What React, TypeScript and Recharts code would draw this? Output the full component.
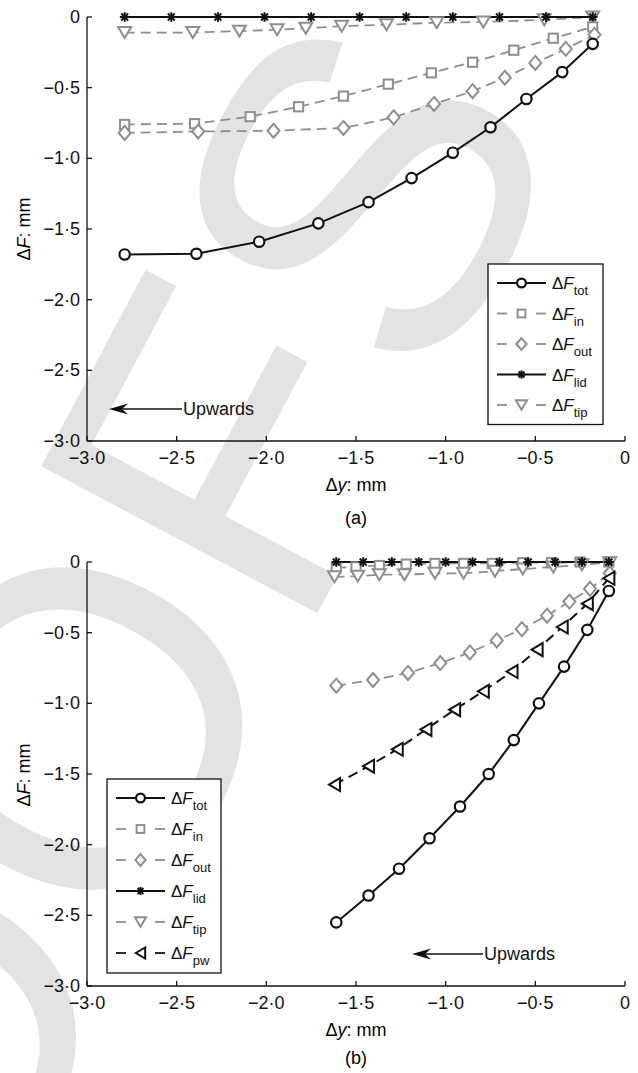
import React from 'react';
import { LineChart, Line, XAxis, YAxis } from 'recharts';

// ---------- Panel (a) data ----------
const A_TOT_X = [-2.79, -2.39, -2.04, -1.71, -1.43, -1.19, -0.96, -0.75, -0.55, -0.35, -0.18];
const A_TOT_Y = [-1.68, -1.675, -1.59, -1.46, -1.31, -1.14, -0.96, -0.78, -0.58, -0.39, -0.19];
const A_IN_X = [-2.79, -2.4, -2.09, -1.82, -1.57, -1.32, -1.08, -0.85, -0.62, -0.4, -0.18];
const A_IN_Y = [-0.76, -0.755, -0.705, -0.635, -0.56, -0.475, -0.395, -0.32, -0.235, -0.15, -0.07];
const A_OUT_X = [-2.79, -2.38, -1.96, -1.57, -1.29, -1.065, -0.85, -0.67, -0.5, -0.33, -0.17];
const A_OUT_Y = [-0.82, -0.81, -0.805, -0.785, -0.71, -0.615, -0.525, -0.43, -0.325, -0.225, -0.125];
const A_LID_X = [-2.79, -2.53, -2.27, -2.01, -1.75, -1.48, -1.22, -0.96, -0.7, -0.44, -0.18];
const A_LID_Y = [0, 0, 0, 0, 0, 0, 0, 0, 0, 0, 0];
const A_TIP_X = [-2.79, -2.41, -2.15, -1.94, -1.78, -1.58, -1.33, -1.05, -0.79, -0.45, -0.18];
const A_TIP_Y = [-0.11, -0.11, -0.1, -0.09, -0.08, -0.065, -0.055, -0.04, -0.035, -0.02, 0];

// ---------- Panel (b) data ----------
const B_TOT_X = [-1.61, -1.43, -1.26, -1.09, -0.92, -0.76, -0.62, -0.48, -0.34, -0.21, -0.09];
const B_TOT_Y = [-2.55, -2.36, -2.17, -1.955, -1.73, -1.5, -1.26, -1.0, -0.74, -0.48, -0.205];
const B_IN_X = [-1.61, -1.5, -1.37, -1.22, -1.06, -0.9, -0.74, -0.57, -0.41, -0.25, -0.09];
const B_IN_Y = [-0.04, -0.035, -0.025, -0.015, -0.01, -0.01, -0.01, -0.005, -0.005, 0, 0];
const B_OUT_X = [-1.61, -1.405, -1.21, -1.03, -0.865, -0.715, -0.575, -0.435, -0.31, -0.195, -0.085];
const B_OUT_Y = [-0.875, -0.835, -0.785, -0.715, -0.64, -0.555, -0.475, -0.38, -0.28, -0.19, -0.08];
const B_LID_X = [-1.61, -1.46, -1.3, -1.15, -1.0, -0.85, -0.7, -0.54, -0.39, -0.24, -0.09];
const B_LID_Y = [0, 0, 0, 0, 0, 0, 0, 0, 0, 0, 0];
const B_TIP_X = [-1.62, -1.49, -1.37, -1.23, -1.06, -0.9, -0.725, -0.57, -0.4, -0.24, -0.085];
const B_TIP_Y = [-0.105, -0.1, -0.09, -0.09, -0.08, -0.08, -0.065, -0.05, -0.035, -0.02, -0.005];
const B_PW_X = [-1.62, -1.43, -1.27, -1.11, -0.95, -0.79, -0.63, -0.49, -0.35, -0.21, -0.09];
const B_PW_Y = [-1.575, -1.445, -1.325, -1.185, -1.045, -0.915, -0.775, -0.62, -0.46, -0.295, -0.115];

// ---------- Axis ticks ----------
const X_TICKS = [-3, -2.5, -2, -1.5, -1, -0.5, 0];
const Y_TICKS = [-3, -2.5, -2, -1.5, -1, -0.5, 0];

const FONT = '"Liberation Sans", Arial, Helvetica, sans-serif';
const GRAY = '#8e8e8e';
const BLACK = '#111';
const WM = '#e3e3e3';
const FS = 18;

const zip = (xs: number[], ys: number[]) => xs.map((x, i) => ({ x, y: ys[i] }));

const fmt = (v: number) => {
  if (v === 0) return '0';
  return (v < 0 ? '\u2212' : '') + Math.abs(v).toFixed(1).replace('.', '\u00B7');
};

type Kind = 'circle' | 'square' | 'diamond' | 'star' | 'tri' | 'left';

function Marker({ kind, cx, cy, color, s = 1 }: { kind: Kind; cx: number; cy: number; color: string; s?: number }) {
  const sw = 2;
  if (kind === 'circle') return <circle cx={cx} cy={cy} r={5.2 * s} fill="#fff" stroke={color} strokeWidth={2.2} />;
  if (kind === 'square') {
    const h = 4.6 * s;
    return <rect x={cx - h} y={cy - h} width={2 * h} height={2 * h} fill="#fff" stroke={color} strokeWidth={sw} />;
  }
  if (kind === 'diamond') {
    const w = 6 * s, h = 7 * s;
    return <polygon points={`${cx},${cy - h} ${cx + w},${cy} ${cx},${cy + h} ${cx - w},${cy}`} fill="#fff" stroke={color} strokeWidth={sw} />;
  }
  if (kind === 'tri') {
    const w = 6.5 * s, h = 5.5 * s;
    return <polygon points={`${cx - w},${cy - h} ${cx + w},${cy - h} ${cx},${cy + h}`} fill="#fff" stroke={color} strokeWidth={sw} />;
  }
  if (kind === 'left') {
    const w = 5.5 * s, h = 6.5 * s;
    return <polygon points={`${cx - w},${cy} ${cx + w},${cy - h} ${cx + w},${cy + h}`} fill="#fff" stroke={color} strokeWidth={sw} />;
  }
  // star / asterisk
  const r = 4.8 * s, d = r * 0.72;
  return (
    <g stroke={color} strokeWidth={2}>
      <line x1={cx} y1={cy - r} x2={cx} y2={cy + r} />
      <line x1={cx - r} y1={cy} x2={cx + r} y2={cy} />
      <line x1={cx - d} y1={cy - d} x2={cx + d} y2={cy + d} />
      <line x1={cx - d} y1={cy + d} x2={cx + d} y2={cy - d} />
    </g>
  );
}

const dotFn = (kind: Kind, color: string) => (p: any) => (
  <Marker key={`m-${p.index}`} kind={kind} cx={p.cx} cy={p.cy} color={color} />
);

const XTick = (p: any) => (
  <g>
    <line x1={p.x} y1={p.y} x2={p.x} y2={p.y - 5} stroke={BLACK} strokeWidth={1.3} />
    <text x={p.x} y={p.y + 17} textAnchor="middle" dominantBaseline="central" fontSize={FS} fontFamily={FONT} fill={BLACK}>
      {fmt(p.payload.value)}
    </text>
  </g>
);

const YTick = (p: any) => (
  <g>
    <line x1={p.x} y1={p.y} x2={p.x + 5} y2={p.y} stroke={BLACK} strokeWidth={1.3} />
    <text x={p.x - 7} y={p.y} textAnchor="end" dominantBaseline="central" fontSize={FS} fontFamily={FONT} fill={BLACK}>
      {fmt(p.payload.value)}
    </text>
  </g>
);

type SeriesDef = { sub: string; kind: Kind; color: string; dashed: boolean; data: { x: number; y: number }[] };

const SERIES_A: SeriesDef[] = [
  { sub: 'tip', kind: 'tri', color: GRAY, dashed: true, data: zip(A_TIP_X, A_TIP_Y) },
  { sub: 'lid', kind: 'star', color: BLACK, dashed: false, data: zip(A_LID_X, A_LID_Y) },
  { sub: 'in', kind: 'square', color: GRAY, dashed: true, data: zip(A_IN_X, A_IN_Y) },
  { sub: 'out', kind: 'diamond', color: GRAY, dashed: true, data: zip(A_OUT_X, A_OUT_Y) },
  { sub: 'tot', kind: 'circle', color: BLACK, dashed: false, data: zip(A_TOT_X, A_TOT_Y) },
];

const SERIES_B: SeriesDef[] = [
  { sub: 'in', kind: 'square', color: GRAY, dashed: true, data: zip(B_IN_X, B_IN_Y) },
  { sub: 'tip', kind: 'tri', color: GRAY, dashed: true, data: zip(B_TIP_X, B_TIP_Y) },
  { sub: 'lid', kind: 'star', color: BLACK, dashed: false, data: zip(B_LID_X, B_LID_Y) },
  { sub: 'out', kind: 'diamond', color: GRAY, dashed: true, data: zip(B_OUT_X, B_OUT_Y) },
  { sub: 'pw', kind: 'left', color: BLACK, dashed: true, data: zip(B_PW_X, B_PW_Y) },
  { sub: 'tot', kind: 'circle', color: BLACK, dashed: false, data: zip(B_TOT_X, B_TOT_Y) },
];

const LEGEND_A: Kind[] = ['circle', 'square', 'diamond', 'star', 'tri'];
const LEGEND_A_SUB = ['tot', 'in', 'out', 'lid', 'tip'];
const LEGEND_B: Kind[] = ['circle', 'square', 'diamond', 'star', 'tri', 'left'];
const LEGEND_B_SUB = ['tot', 'in', 'out', 'lid', 'tip', 'pw'];
const LEGEND_STYLE: Record<Kind, { color: string; dashed: boolean }> = {
  circle: { color: BLACK, dashed: false },
  square: { color: GRAY, dashed: true },
  diamond: { color: GRAY, dashed: true },
  star: { color: BLACK, dashed: false },
  tri: { color: GRAY, dashed: true },
  left: { color: BLACK, dashed: true },
};

function Panel({ series, height }: { series: SeriesDef[]; height: number }) {
  return (
    <LineChart width={638} height={height} margin={{ top: 17, right: 13, bottom: 0, left: 0 }}>
      <XAxis
        type="number"
        dataKey="x"
        domain={[-3, 0]}
        ticks={X_TICKS}
        interval={0}
        height={height - 17 - 424}
        tickSize={0}
        tickMargin={0}
        tickLine={false}
        tick={<XTick />}
        axisLine={{ stroke: BLACK, strokeWidth: 1.3 }}
      />
      <YAxis
        type="number"
        dataKey="y"
        domain={[-3, 0]}
        ticks={Y_TICKS}
        interval={0}
        width={87}
        tickSize={0}
        tickMargin={0}
        tickLine={false}
        tick={<YTick />}
        axisLine={{ stroke: BLACK, strokeWidth: 1.3 }}
      />
      {series.map((s) => (
        <Line
          key={s.sub}
          data={s.data}
          dataKey="y"
          type="linear"
          stroke={s.color}
          strokeWidth={s.color === GRAY ? 1.8 : 2}
          strokeDasharray={s.dashed ? '10 6' : undefined}
          dot={dotFn(s.kind, s.color)}
          activeDot={false}
          isAnimationActive={false}
        />
      ))}
    </LineChart>
  );
}

function LegendBox({ left, top, kinds, subs, width, rowH }: { left: number; top: number; kinds: Kind[]; subs: string[]; width: number; rowH: number }) {
  const h = kinds.length * rowH + 8;
  return (
    <g>
      <rect x={left} y={top} width={width} height={h} fill="#fff" stroke={BLACK} strokeWidth={1.3} />
      {kinds.map((k, i) => {
        const cy = top + 19 + i * rowH;
        const st = LEGEND_STYLE[k];
        const x1 = left + 9, x2 = left + 58, mx = (x1 + x2) / 2;
        return (
          <g key={k}>
            {st.dashed ? (
              <g stroke={st.color} strokeWidth={1.8}>
                <line x1={x1} y1={cy} x2={x1 + 10} y2={cy} />
                <line x1={x2 - 10} y1={cy} x2={x2} y2={cy} />
              </g>
            ) : (
              <line x1={x1} y1={cy} x2={x2} y2={cy} stroke={st.color} strokeWidth={2} />
            )}
            <Marker kind={k} cx={mx} cy={cy} color={st.color} s={0.85} />
            <text x={left + 64} y={cy + 6} fontSize={17} fontFamily={FONT} fill={BLACK}>
              {'\u0394'}
              <tspan fontStyle="italic">F</tspan>
              <tspan fontSize={13} dy={6}>{subs[i]}</tspan>
            </text>
          </g>
        );
      })}
    </g>
  );
}

function Arrow({ tipX, y, endX }: { tipX: number; y: number; endX: number }) {
  return (
    <g>
      <line x1={tipX + 4} y1={y} x2={endX} y2={y} stroke={BLACK} strokeWidth={1.3} />
      <path d={`M${tipX},${y} L${tipX + 19},${y - 5.5} L${tipX + 13},${y} L${tipX + 19},${y + 5.5} Z`} fill={BLACK} />
      <text x={endX + 1} y={y} dominantBaseline="central" fontSize={FS} fontFamily={FONT} fill={BLACK}>Upwards</text>
    </g>
  );
}

export default function App() {
  return (
    <div style={{ position: 'absolute', left: 0, top: 0, width: 638, height: 1073, background: '#fff', overflow: 'hidden', fontFamily: FONT }}>
      <svg width={638} height={1073} style={{ position: 'absolute', left: 0, top: 0 }}>
        <text
          x={-1340}
          y={0}
          transform="translate(300,646) rotate(-62)"
          fontSize={455}
          fontFamily={FONT}
          fill={WM}
        >
          PROOFS
        </text>
      </svg>
      <div style={{ position: 'absolute', left: 0, top: 0 }}>
        <Panel series={SERIES_A} height={530} />
      </div>
      <div style={{ position: 'absolute', left: 0, top: 545 }}>
        <Panel series={SERIES_B} height={528} />
      </div>
      <svg width={638} height={1073} style={{ position: 'absolute', left: 0, top: 0, pointerEvents: 'none' }}>
        <LegendBox left={488} top={264} kinds={LEGEND_A} subs={LEGEND_A_SUB} width={115} rowH={30.5} />
        <LegendBox left={107} top={779} kinds={LEGEND_B} subs={LEGEND_B_SUB} width={114} rowH={31} />
        <Arrow tipX={109} y={409} endX={182} />
        <Arrow tipX={412} y={954} endX={483} />
        <text x={356} y={485} textAnchor="middle" dominantBaseline="central" fontSize={FS} fontFamily={FONT}>
          {'\u0394'}<tspan fontStyle="italic">y</tspan>: mm
        </text>
        <text x={356} y={518} textAnchor="middle" dominantBaseline="central" fontSize={FS} fontFamily={FONT}>(a)</text>
        <text x={356} y={1030} textAnchor="middle" dominantBaseline="central" fontSize={FS} fontFamily={FONT}>
          {'\u0394'}<tspan fontStyle="italic">y</tspan>: mm
        </text>
        <text x={356} y={1058} textAnchor="middle" dominantBaseline="central" fontSize={FS} fontFamily={FONT}>(b)</text>
        <text transform="translate(24,229) rotate(-90)" textAnchor="middle" dominantBaseline="central" fontSize={FS} fontFamily={FONT}>
          {'\u0394'}<tspan fontStyle="italic">F</tspan>: mm
        </text>
        <text transform="translate(24,775) rotate(-90)" textAnchor="middle" dominantBaseline="central" fontSize={FS} fontFamily={FONT}>
          {'\u0394'}<tspan fontStyle="italic">F</tspan>: mm
        </text>
      </svg>
    </div>
  );
}
